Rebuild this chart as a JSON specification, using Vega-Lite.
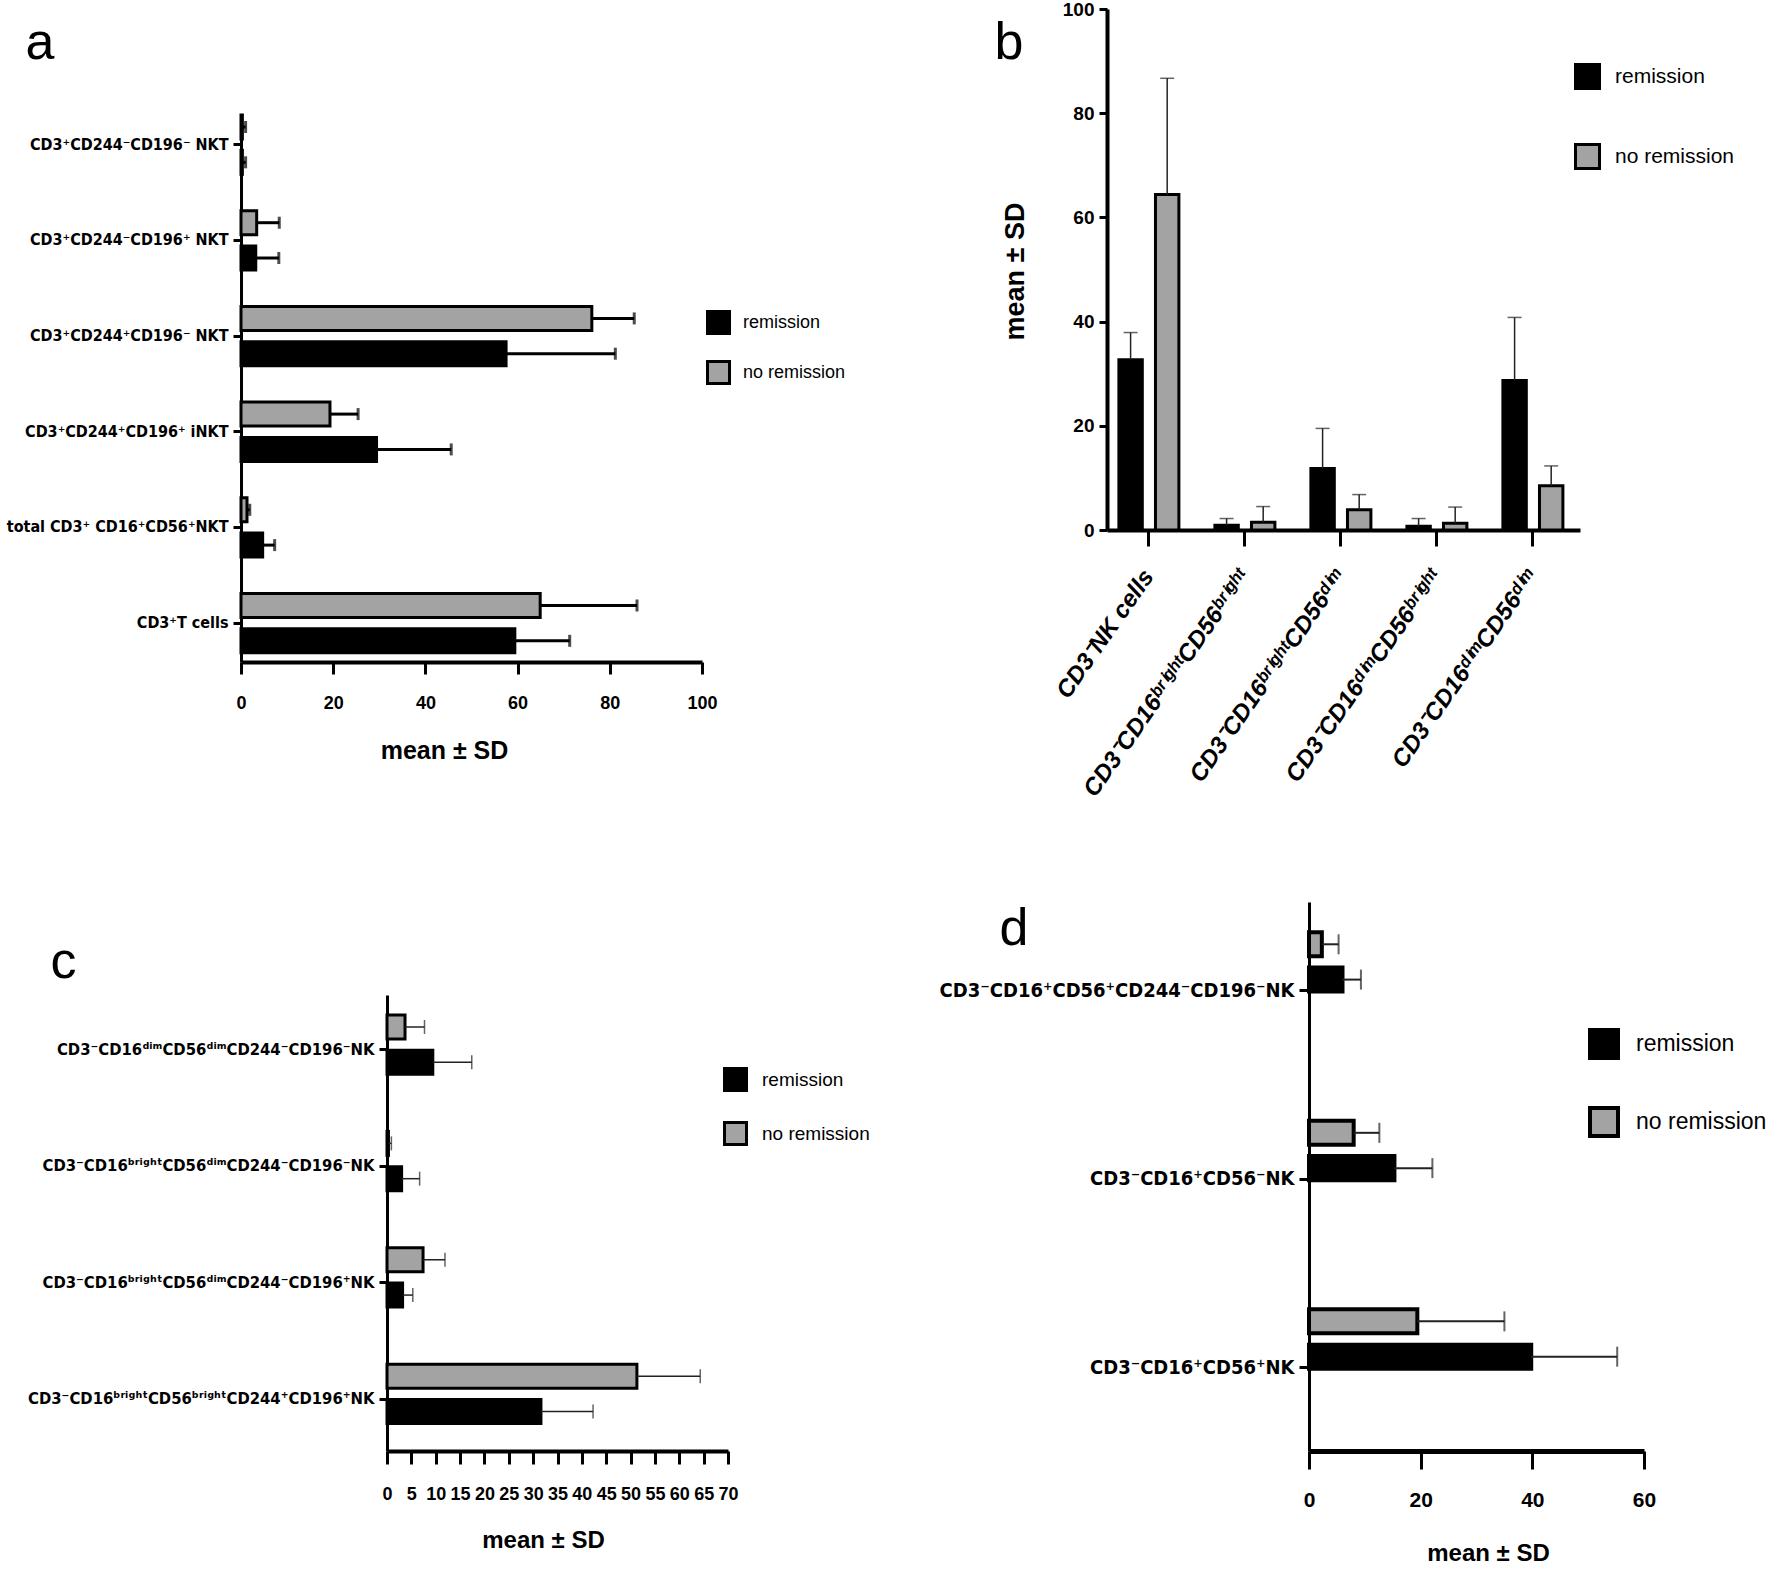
{
  "$schema": "https://vega.github.io/schema/vega-lite/v6.json",
  "background": "white",
  "padding": 0,
  "autosize": {"type": "pad"},
  "datasets": {
    "a": [
      {"cat": "CD3⁺CD244⁻CD196⁻ NKT", "group": "remission", "mean": 0.3, "upper": 1.0},
      {"cat": "CD3⁺CD244⁻CD196⁻ NKT", "group": "no remission", "mean": 0.3, "upper": 1.0},
      {"cat": "CD3⁺CD244⁻CD196⁺ NKT", "group": "remission", "mean": 3.2, "upper": 8.2},
      {"cat": "CD3⁺CD244⁻CD196⁺ NKT", "group": "no remission", "mean": 3.4, "upper": 8.3},
      {"cat": "CD3⁺CD244⁺CD196⁻ NKT", "group": "remission", "mean": 57.5, "upper": 81.2},
      {"cat": "CD3⁺CD244⁺CD196⁻ NKT", "group": "no remission", "mean": 76.1, "upper": 85.3},
      {"cat": "CD3⁺CD244⁺CD196⁺ iNKT", "group": "remission", "mean": 29.4, "upper": 45.6},
      {"cat": "CD3⁺CD244⁺CD196⁺ iNKT", "group": "no remission", "mean": 19.3, "upper": 25.4},
      {"cat": "total CD3⁺ CD16⁺CD56⁺NKT", "group": "remission", "mean": 4.7, "upper": 7.3},
      {"cat": "total CD3⁺ CD16⁺CD56⁺NKT", "group": "no remission", "mean": 1.3, "upper": 1.9},
      {"cat": "CD3⁺T cells", "group": "remission", "mean": 59.4, "upper": 71.3},
      {"cat": "CD3⁺T cells", "group": "no remission", "mean": 64.9, "upper": 85.9}
    ],
    "b": [
      {"cat": "CD3⁻NK cells", "group": "remission", "mean": 32.7, "upper": 37.9},
      {"cat": "CD3⁻NK cells", "group": "no remission", "mean": 64.4, "upper": 86.7},
      {"cat": "CD3⁻CD16ᵇʳⁱᵍʰᵗCD56ᵇʳⁱᵍʰᵗ", "group": "remission", "mean": 0.9, "upper": 2.2},
      {"cat": "CD3⁻CD16ᵇʳⁱᵍʰᵗCD56ᵇʳⁱᵍʰᵗ", "group": "no remission", "mean": 1.5, "upper": 4.5},
      {"cat": "CD3⁻CD16ᵇʳⁱᵍʰᵗCD56ᵈⁱᵐ", "group": "remission", "mean": 11.8, "upper": 19.5},
      {"cat": "CD3⁻CD16ᵇʳⁱᵍʰᵗCD56ᵈⁱᵐ", "group": "no remission", "mean": 3.9, "upper": 6.8},
      {"cat": "CD3⁻CD16ᵈⁱᵐCD56ᵇʳⁱᵍʰᵗ", "group": "remission", "mean": 0.7, "upper": 2.2},
      {"cat": "CD3⁻CD16ᵈⁱᵐCD56ᵇʳⁱᵍʰᵗ", "group": "no remission", "mean": 1.3, "upper": 4.4},
      {"cat": "CD3⁻CD16ᵈⁱᵐCD56ᵈⁱᵐ", "group": "remission", "mean": 28.7, "upper": 40.8},
      {"cat": "CD3⁻CD16ᵈⁱᵐCD56ᵈⁱᵐ", "group": "no remission", "mean": 8.5, "upper": 12.3}
    ],
    "c": [
      {"cat": "CD3⁻CD16ᵈⁱᵐCD56ᵈⁱᵐCD244⁻CD196⁻NK", "group": "remission", "mean": 9.4, "upper": 17.4},
      {"cat": "CD3⁻CD16ᵈⁱᵐCD56ᵈⁱᵐCD244⁻CD196⁻NK", "group": "no remission", "mean": 3.7, "upper": 7.7},
      {"cat": "CD3⁻CD16ᵇʳⁱᵍʰᵗCD56ᵈⁱᵐCD244⁻CD196⁻NK", "group": "remission", "mean": 3.0, "upper": 6.7},
      {"cat": "CD3⁻CD16ᵇʳⁱᵍʰᵗCD56ᵈⁱᵐCD244⁻CD196⁻NK", "group": "no remission", "mean": 0.3, "upper": 0.9},
      {"cat": "CD3⁻CD16ᵇʳⁱᵍʰᵗCD56ᵈⁱᵐCD244⁻CD196⁺NK", "group": "remission", "mean": 3.2, "upper": 5.3},
      {"cat": "CD3⁻CD16ᵇʳⁱᵍʰᵗCD56ᵈⁱᵐCD244⁻CD196⁺NK", "group": "no remission", "mean": 7.4, "upper": 11.9},
      {"cat": "CD3⁻CD16ᵇʳⁱᵍʰᵗCD56ᵇʳⁱᵍʰᵗCD244⁺CD196⁺NK", "group": "remission", "mean": 31.6, "upper": 42.3},
      {"cat": "CD3⁻CD16ᵇʳⁱᵍʰᵗCD56ᵇʳⁱᵍʰᵗCD244⁺CD196⁺NK", "group": "no remission", "mean": 51.3, "upper": 64.3}
    ],
    "d": [
      {"cat": "CD3⁻CD16⁺CD56⁺CD244⁻CD196⁻NK", "group": "remission", "mean": 6.0, "upper": 9.3},
      {"cat": "CD3⁻CD16⁺CD56⁺CD244⁻CD196⁻NK", "group": "no remission", "mean": 2.3, "upper": 5.3},
      {"cat": "CD3⁻CD16⁺CD56⁻NK", "group": "remission", "mean": 15.3, "upper": 22.1},
      {"cat": "CD3⁻CD16⁺CD56⁻NK", "group": "no remission", "mean": 8.0, "upper": 12.6},
      {"cat": "CD3⁻CD16⁺CD56⁺NK", "group": "remission", "mean": 39.8, "upper": 55.2},
      {"cat": "CD3⁻CD16⁺CD56⁺NK", "group": "no remission", "mean": 19.4, "upper": 35.0}
    ]
  },
  "columns": 2,
  "spacing": 0,
  "bounds": "flush",
  "align": "all",
  "concat": [
    {
      "width": 886,
      "height": 796,
      "data": {"name": "a"},
      "encoding": {
        "y": {
          "field": "cat", "type": "nominal", "title": "a",
          "sort": ["CD3⁺CD244⁻CD196⁻ NKT", "CD3⁺CD244⁻CD196⁺ NKT", "CD3⁺CD244⁺CD196⁻ NKT", "CD3⁺CD244⁺CD196⁺ iNKT", "total CD3⁺ CD16⁺CD56⁺NKT", "CD3⁺T cells"],
          "scale": {"range": [114, 661], "paddingInner": 0.38, "paddingOuter": 0.048, "align": 0},
          "axis": {"offset": -241, "domainWidth": 3, "tickWidth": 3, "tickSize": 8, "labelPadding": 5, "labelFont": "DejaVu Sans Condensed, sans-serif", "labelFontWeight": "bold", "labelFontSize": 16, "labelLimit": 0, "titleFont": "Liberation Sans", "titleFontWeight": "normal", "titleFontSize": 52, "titleAngle": 0, "titleAlign": "left", "titleBaseline": "alphabetic", "titleX": -216, "titleY": 57}
        },
        "yOffset": {"field": "group", "scale": {"domain": ["no remission", "remission"], "paddingInner": 0.32}}
      },
      "layer": [
        {
          "mark": {"type": "bar", "stroke": "black", "strokeWidth": 3},
          "encoding": {
            "x": {
              "field": "mean", "type": "quantitative", "title": "mean ± SD",
              "scale": {"domain": [0, 100], "range": [241, 702], "nice": false},
              "axis": {"offset": -135, "values": [0, 20, 40, 60, 80, 100], "domainWidth": 4, "tickWidth": 3, "tickSize": 12, "labelPadding": 20, "labelFlush": false, "labelOverlap": false, "labelFont": "Liberation Sans", "labelFontWeight": "bold", "labelFontSize": 18, "titleFont": "Liberation Sans", "titleFontWeight": "bold", "titleFontSize": 25, "titleX": 444, "titleY": 88, "titleBaseline": "middle"}
            },
            "color": {
              "field": "group", "type": "nominal",
              "scale": {"domain": ["remission", "no remission"], "range": ["black", "#a3a3a3"]},
              "legend": {"orient": "none", "legendX": 706, "legendY": 309, "title": null, "padding": 0, "symbolType": "square", "symbolSize": 484, "symbolStrokeColor": "black", "symbolStrokeWidth": 3, "labelFont": "Liberation Sans", "labelFontSize": 18, "labelColor": "black", "rowPadding": 15, "labelOffset": 12}
            }
          }
        },
        {
          "mark": {"type": "rule", "color": "black", "strokeWidth": 3},
          "encoding": {"x": {"field": "mean", "type": "quantitative", "title": "mean ± SD"}, "x2": {"field": "upper"}}
        },
        {
          "mark": {"type": "tick", "color": "black", "thickness": 3, "size": 12},
          "encoding": {"x": {"field": "upper", "type": "quantitative", "title": "mean ± SD"}}
        }
      ]
    },
    {
      "width": 886,
      "height": 796,
      "data": {"name": "b"},
      "encoding": {
        "x": {
          "field": "cat", "type": "nominal", "title": "b",
          "sort": ["CD3⁻NK cells", "CD3⁻CD16ᵇʳⁱᵍʰᵗCD56ᵇʳⁱᵍʰᵗ", "CD3⁻CD16ᵇʳⁱᵍʰᵗCD56ᵈⁱᵐ", "CD3⁻CD16ᵈⁱᵐCD56ᵇʳⁱᵍʰᵗ", "CD3⁻CD16ᵈⁱᵐCD56ᵈⁱᵐ"],
          "scale": {"range": [221, 694], "paddingInner": 0.375, "paddingOuter": 0.151, "align": 0.41},
          "axis": {"offset": -267, "labelAngle": -55, "labelFont": "Liberation Sans", "labelFontStyle": "italic", "labelFontWeight": "bold", "labelFontSize": 24, "tickSize": 16, "tickWidth": 3, "domainWidth": 4, "labelPadding": 26, "labelLimit": 0, "titleFont": "Liberation Sans", "titleFontWeight": "normal", "titleFontSize": 52, "titleAngle": 0, "titleAlign": "left", "titleBaseline": "alphabetic", "titleX": 108, "titleY": -472}
        },
        "xOffset": {"field": "group", "scale": {"domain": ["remission", "no remission"], "paddingInner": 0.36}}
      },
      "layer": [
        {
          "mark": {"type": "bar", "stroke": "black", "strokeWidth": 3},
          "encoding": {
            "y": {
              "field": "mean", "type": "quantitative", "title": "mean ± SD",
              "scale": {"domain": [0, 100], "range": [529, 8], "nice": false},
              "axis": {"offset": -221, "values": [0, 20, 40, 60, 80, 100], "tickSize": 8, "tickWidth": 3, "domainWidth": 4, "labelPadding": 5, "labelFont": "Liberation Sans", "labelFontWeight": "bold", "labelFontSize": 19, "titleFont": "Liberation Sans", "titleFontWeight": "bold", "titleFontSize": 27, "titleX": -92, "titleY": 270, "titleAngle": -90, "titleBaseline": "middle"}
            },
            "color": {
              "field": "group", "type": "nominal",
              "scale": {"domain": ["remission", "no remission"], "range": ["black", "#a3a3a3"]},
              "legend": {"orient": "none", "legendX": 688, "legendY": 62, "title": null, "padding": 0, "symbolType": "square", "symbolSize": 576, "symbolStrokeColor": "black", "symbolStrokeWidth": 3, "labelFont": "Liberation Sans", "labelFontSize": 21, "labelColor": "black", "rowPadding": 43, "labelOffset": 14}
            }
          }
        },
        {
          "mark": {"type": "rule", "color": "#222222", "strokeWidth": 1.5},
          "encoding": {"y": {"field": "mean", "type": "quantitative", "title": "mean ± SD"}, "y2": {"field": "upper"}}
        },
        {
          "mark": {"type": "tick", "color": "#222222", "thickness": 1.5, "size": 14},
          "encoding": {"y": {"field": "upper", "type": "quantitative", "title": "mean ± SD"}}
        }
      ]
    },
    {
      "width": 886,
      "height": 796,
      "data": {"name": "c"},
      "encoding": {
        "y": {
          "field": "cat", "type": "nominal", "title": "c",
          "sort": ["CD3⁻CD16ᵈⁱᵐCD56ᵈⁱᵐCD244⁻CD196⁻NK", "CD3⁻CD16ᵇʳⁱᵍʰᵗCD56ᵈⁱᵐCD244⁻CD196⁻NK", "CD3⁻CD16ᵇʳⁱᵍʰᵗCD56ᵈⁱᵐCD244⁻CD196⁺NK", "CD3⁻CD16ᵇʳⁱᵍʰᵗCD56ᵇʳⁱᵍʰᵗCD244⁺CD196⁺NK"],
          "scale": {"range": [198, 654], "paddingInner": 0.4, "paddingOuter": 0.159, "align": 0.54},
          "axis": {"offset": -387, "domainWidth": 3, "tickWidth": 3, "tickSize": 8, "labelPadding": 5, "labelFont": "DejaVu Sans Condensed, sans-serif", "labelFontWeight": "bold", "labelFontSize": 16.5, "labelLimit": 0, "titleFont": "Liberation Sans", "titleFontWeight": "normal", "titleFontSize": 52, "titleAngle": 0, "titleAlign": "left", "titleBaseline": "alphabetic", "titleX": -337, "titleY": 180}
        },
        "yOffset": {"field": "group", "scale": {"domain": ["no remission", "remission"], "paddingInner": 0.37}}
      },
      "layer": [
        {
          "mark": {"type": "bar", "stroke": "black", "strokeWidth": 3},
          "encoding": {
            "x": {
              "field": "mean", "type": "quantitative", "title": "mean ± SD",
              "scale": {"domain": [0, 70], "range": [387, 728], "nice": false},
              "axis": {"offset": -142, "values": [0, 5, 10, 15, 20, 25, 30, 35, 40, 45, 50, 55, 60, 65, 70], "domainWidth": 4, "tickWidth": 3, "tickSize": 13, "labelPadding": 21, "labelFlush": false, "labelOverlap": false, "labelFont": "Liberation Sans", "labelFontWeight": "bold", "labelFontSize": 18, "titleFont": "Liberation Sans", "titleFontWeight": "bold", "titleFontSize": 24, "titleX": 543, "titleY": 89, "titleBaseline": "middle"}
            },
            "color": {
              "field": "group", "type": "nominal",
              "scale": {"domain": ["remission", "no remission"], "range": ["black", "#a3a3a3"]},
              "legend": {"orient": "none", "legendX": 723, "legendY": 270, "title": null, "padding": 0, "symbolType": "square", "symbolSize": 484, "symbolStrokeColor": "black", "symbolStrokeWidth": 3, "labelFont": "Liberation Sans", "labelFontSize": 19, "labelColor": "black", "rowPadding": 19, "labelOffset": 14}
            }
          }
        },
        {
          "mark": {"type": "rule", "color": "#222222", "strokeWidth": 1.5},
          "encoding": {"x": {"field": "mean", "type": "quantitative", "title": "mean ± SD"}, "x2": {"field": "upper"}}
        },
        {
          "mark": {"type": "tick", "color": "#222222", "thickness": 1.5, "size": 14},
          "encoding": {"x": {"field": "upper", "type": "quantitative", "title": "mean ± SD"}}
        }
      ]
    },
    {
      "width": 886,
      "height": 796,
      "data": {"name": "d"},
      "encoding": {
        "y": {
          "field": "cat", "type": "nominal", "title": "d",
          "sort": ["CD3⁻CD16⁺CD56⁺CD244⁻CD196⁻NK", "CD3⁻CD16⁺CD56⁻NK", "CD3⁻CD16⁺CD56⁺NK"],
          "scale": {"range": [105, 654], "paddingInner": 0.38, "paddingOuter": 0.146, "align": 0.55},
          "axis": {"offset": -423, "domainWidth": 3, "tickWidth": 3, "tickSize": 10, "labelPadding": 5, "labelFont": "DejaVu Sans Condensed, sans-serif", "labelFontWeight": "bold", "labelFontSize": 20, "labelLimit": 0, "titleFont": "Liberation Sans", "titleFontWeight": "normal", "titleFontSize": 52, "titleAngle": 0, "titleAlign": "left", "titleBaseline": "alphabetic", "titleX": -310, "titleY": 147}
        },
        "yOffset": {"field": "group", "scale": {"domain": ["no remission", "remission"], "paddingInner": 0.375}}
      },
      "layer": [
        {
          "mark": {"type": "bar", "stroke": "black", "strokeWidth": 4},
          "encoding": {
            "x": {
              "field": "mean", "type": "quantitative", "title": "mean ± SD",
              "scale": {"domain": [0, 60], "range": [423, 758], "nice": false},
              "axis": {"offset": -142, "values": [0, 20, 40, 60], "domainWidth": 5, "tickWidth": 3, "tickSize": 18, "labelPadding": 20, "labelFlush": false, "labelOverlap": false, "labelFont": "Liberation Sans", "labelFontWeight": "bold", "labelFontSize": 21, "titleFont": "Liberation Sans", "titleFontWeight": "bold", "titleFontSize": 24, "titleX": 602, "titleY": 102, "titleBaseline": "middle"}
            },
            "color": {
              "field": "group", "type": "nominal",
              "scale": {"domain": ["remission", "no remission"], "range": ["black", "#a3a3a3"]},
              "legend": {"orient": "none", "legendX": 702, "legendY": 231, "title": null, "padding": 0, "symbolType": "square", "symbolSize": 784, "symbolStrokeColor": "black", "symbolStrokeWidth": 4, "labelFont": "Liberation Sans", "labelFontSize": 23, "labelColor": "black", "rowPadding": 34, "labelOffset": 16}
            }
          }
        },
        {
          "mark": {"type": "rule", "color": "#222222", "strokeWidth": 2},
          "encoding": {"x": {"field": "mean", "type": "quantitative", "title": "mean ± SD"}, "x2": {"field": "upper"}}
        },
        {
          "mark": {"type": "tick", "color": "#222222", "thickness": 2, "size": 20},
          "encoding": {"x": {"field": "upper", "type": "quantitative", "title": "mean ± SD"}}
        }
      ]
    }
  ],
  "resolve": {
    "scale": {"color": "independent", "x": "independent", "y": "independent"},
    "legend": {"color": "independent"}
  },
  "config": {
    "view": {"stroke": null},
    "axis": {"grid": false, "domainColor": "black", "tickColor": "black", "labelColor": "black", "titleColor": "black"},
    "legend": {"labelColor": "black"}
  }
}
